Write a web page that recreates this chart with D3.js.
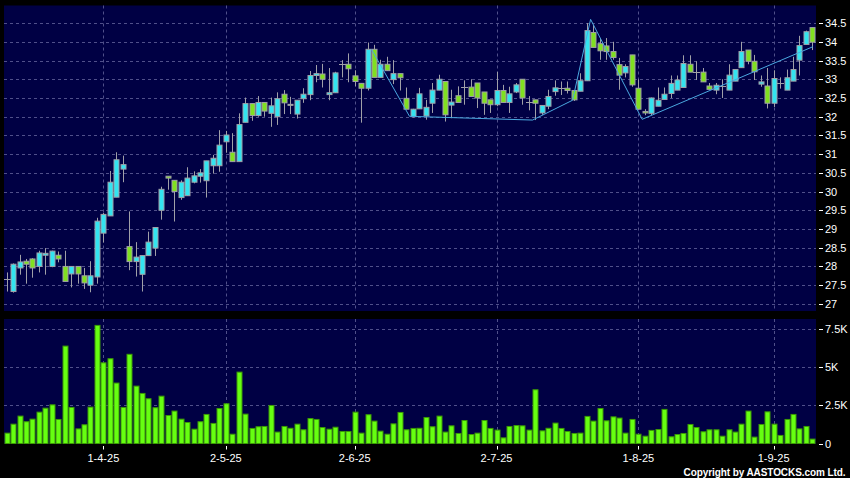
<!DOCTYPE html>
<html><head><meta charset="utf-8">
<script src="https://cdn.jsdelivr.net/npm/d3@7/dist/d3.min.js"></script>
<style>html,body{margin:0;padding:0;background:#000;}svg{display:block;}</style>
</head><body>
<svg id="c" width="850" height="478"></svg>
<script>
const dates = [
"11-3-25","12-3-25","13-3-25","14-3-25","17-3-25","18-3-25","19-3-25","20-3-25","21-3-25","24-3-25","25-3-25","26-3-25","27-3-25","28-3-25","31-3-25",
"1-4-25","2-4-25","3-4-25","7-4-25","8-4-25","9-4-25","10-4-25","11-4-25","14-4-25","15-4-25","16-4-25","17-4-25","22-4-25","23-4-25","24-4-25","25-4-25","28-4-25","29-4-25","30-4-25",
"2-5-25","6-5-25","7-5-25","8-5-25","9-5-25","12-5-25","13-5-25","14-5-25","15-5-25","16-5-25","19-5-25","20-5-25","21-5-25","22-5-25","23-5-25","26-5-25","27-5-25","28-5-25","29-5-25","30-5-25",
"2-6-25","3-6-25","4-6-25","5-6-25","6-6-25","9-6-25","10-6-25","11-6-25","12-6-25","13-6-25","16-6-25","17-6-25","18-6-25","19-6-25","20-6-25","23-6-25","24-6-25","25-6-25","26-6-25","27-6-25","30-6-25",
"1-7-25","2-7-25","3-7-25","4-7-25","7-7-25","8-7-25","9-7-25","10-7-25","11-7-25","14-7-25","15-7-25","16-7-25","17-7-25","18-7-25","21-7-25","22-7-25","23-7-25","24-7-25","25-7-25","28-7-25","29-7-25","30-7-25","31-7-25",
"1-8-25","4-8-25","5-8-25","6-8-25","7-8-25","8-8-25","11-8-25","12-8-25","13-8-25","14-8-25","15-8-25","18-8-25","19-8-25","20-8-25","21-8-25","22-8-25","25-8-25","26-8-25","27-8-25","28-8-25","29-8-25",
"1-9-25","2-9-25","3-9-25","4-9-25","5-9-25","8-9-25","9-9-25"];

const open = [27.66,27.33,27.96,28.14,28.20,28.00,28.30,28.00,28.30,28.00,27.80,28.00,27.75,27.50,27.72,28.89,29.35,29.85,30.60,28.53,
28.13,27.79,28.29,28.49,29.50,30.41,30.30,29.84,29.89,30.25,30.41,30.29,30.69,30.69,31.33,31.05,30.80,31.85,32.35,32.03,
32.38,32.09,32.00,32.60,32.33,32.07,32.48,32.59,33.10,33.14,32.59,32.64,33.42,33.40,33.09,32.89,32.76,33.80,33.05,33.40,
32.99,33.15,32.49,32.00,32.21,32.02,32.36,32.71,32.94,32.31,32.56,32.79,32.79,32.90,32.66,32.45,32.32,32.70,32.38,32.66,
33.00,32.39,32.45,32.10,32.28,32.67,32.77,32.76,32.70,32.68,32.96,34.25,33.95,33.89,33.74,33.39,33.17,33.65,32.76,32.14,
32.09,32.28,32.46,32.62,32.71,32.78,33.40,33.19,33.19,32.82,32.71,32.82,32.71,32.95,33.31,33.78,33.48,32.87,32.82,32.36,
32.89,32.71,32.95,33.51,33.93,34.38];
const high = [27.84,28.08,28.31,28.20,28.22,28.42,28.49,28.42,28.40,28.42,28.00,28.00,27.96,28.14,29.30,29.43,30.55,31.05,30.96,29.47,
28.65,28.29,28.93,29.04,30.13,30.41,30.30,30.30,30.65,30.54,30.60,30.82,30.98,31.64,31.62,31.56,32.09,32.51,32.35,32.55,
32.38,32.51,32.65,32.71,32.53,32.44,32.76,33.22,33.38,33.41,33.30,33.20,33.51,33.69,33.24,32.89,33.98,33.92,33.52,33.60,
33.51,33.15,32.78,32.21,32.77,32.45,32.90,33.12,32.94,32.72,32.81,32.97,33.00,32.90,32.66,32.45,33.20,32.85,32.80,32.90,
33.00,32.55,32.45,32.30,32.72,32.97,32.94,32.94,32.70,33.16,34.50,34.45,34.10,34.10,34.00,33.57,33.40,33.65,33.00,32.20,
32.51,32.78,32.78,33.10,33.10,33.64,33.64,33.48,33.30,32.90,32.90,33.00,33.40,33.26,34.00,33.78,33.65,33.10,33.30,33.24,
33.05,33.26,33.60,34.16,34.30,34.38];
const low = [27.33,27.30,27.78,27.54,27.70,27.84,27.78,27.98,28.11,27.60,27.44,27.54,27.40,27.31,27.54,28.64,29.35,29.85,30.25,27.90,
27.73,27.33,28.29,28.28,29.25,30.05,29.20,29.78,29.89,30.22,30.24,29.84,30.48,30.53,31.04,30.80,30.80,31.85,31.89,32.00,
32.00,31.73,31.78,32.07,32.07,31.95,32.37,32.44,32.92,32.78,32.44,32.64,33.05,32.92,32.81,31.84,32.70,33.05,33.05,33.23,
32.87,32.70,32.20,31.98,32.21,31.92,32.10,32.71,31.87,31.96,32.38,32.32,32.54,32.23,32.05,32.10,32.28,32.38,32.10,32.63,
32.32,32.17,31.91,32.05,32.20,32.56,32.58,32.62,32.42,32.68,32.96,33.85,33.52,33.52,33.52,32.72,33.05,32.80,32.20,32.04,
32.04,32.28,32.46,32.50,32.71,32.78,33.19,32.98,32.93,32.73,32.60,32.50,32.71,32.95,33.31,33.40,32.98,32.80,32.22,32.26,
32.75,32.71,32.95,33.10,33.93,33.78];
const close = [27.66,28.06,28.12,28.06,27.96,28.36,28.35,28.41,28.20,27.60,28.00,27.80,27.56,27.75,29.21,29.39,30.25,30.85,30.72,28.13,
28.25,28.29,28.65,29.04,30.06,30.36,30.00,30.25,30.36,30.42,30.50,30.82,30.89,31.24,31.51,30.80,31.79,32.35,32.03,32.38,
32.15,32.29,32.48,32.37,32.31,32.44,32.60,33.10,33.15,33.00,32.64,33.17,33.42,33.28,32.94,32.76,33.80,33.05,33.40,33.23,
33.15,33.04,32.20,32.20,32.61,32.25,32.71,33.00,32.05,32.39,32.38,32.79,32.54,32.50,32.36,32.32,32.70,32.38,32.61,32.85,
32.50,32.39,32.36,32.30,32.54,32.77,32.77,32.70,32.45,32.96,34.30,33.85,33.76,33.74,33.58,33.11,33.34,32.85,32.20,32.10,
32.50,32.44,32.60,32.89,32.98,33.42,33.19,33.19,32.93,32.73,32.84,32.82,33.11,33.26,33.74,33.48,33.20,32.93,32.36,33.02,
32.89,33.04,33.26,33.90,34.27,33.99];
const volumeK = [0.68,1.27,1.8,1.43,1.6,2.06,2.32,2.54,1.58,6.4,
2.37,0.96,1.23,2.39,7.76,5.3,5.57,3.97,2.37,5.86,
3.77,3.29,2.94,2.35,3.11,1.84,2.13,1.6,1.38,0.94,
1.43,1.91,1.32,2.3,2.61,0.61,4.69,1.93,0.99,1.1,
1.12,2.5,0.75,1.12,1.0,1.27,0.9,1.64,1.58,1.05,
0.94,1.07,0.79,0.79,2.06,0.68,1.89,1.47,0.81,0.61,
1.29,2.04,0.9,0.99,1.0,1.71,
1.1,1.8,0.75,1.16,0.66,1.51,0.59,0.68,1.51,0.99,
0.88,0.37,1.12,1.18,1.16,0.88,3.53,0.83,1.0,1.34,
0.99,0.79,0.66,0.68,1.78,1.47,2.3,1.49,1.75,1.67,
0.68,1.58,0.61,0.48,0.86,0.92,2.24,0.44,0.59,0.66,
1.25,1.05,0.77,0.9,0.9,0.48,0.9,0.75,1.27,2.13,
0.42,1.25,2.08,1.27,0.53,1.58,1.91,0.96,1.12,0.29];
// zigzag overlay: position (fractional bar index) and price
const zigIdx = [56.6, 62.5, 81.6, 87.8, 90.6, 98.6, 125.1];
const zigPrice = [33.80, 32.01, 31.91, 32.44, 34.60, 31.93, 33.87];

const dateTicks = ["1-4-25","2-5-25","2-6-25","2-7-25","1-8-25","1-9-25"];
const priceTicks = [27,27.5,28,28.5,29,29.5,30,30.5,31,31.5,32,32.5,33,33.5,34,34.5];
const volTicks = [0,2.5,5,7.5];
const volTickLabels = ["0","2.5K","5K","7.5K"];

const C = {bg:"#000044", grid:"#50508a", up:"#33e4f0", down:"#80e020", wick:"#a0a0a8", vol:"#66ff11", volEdge:"#3c9a06", zig:"#4aa8e0", text:"#ffffff"};

const svg = d3.select("#c");
const L = 4, R = 816;
const P = {top:5.5, bottom:311}, V = {top:319, bottom:443.5};

const x = d3.scalePoint().domain(dates).range([6.7, 812.3]);
const xi = d3.scaleLinear().domain([0, dates.length-1]).range([6.7, 812.3]);
const y = d3.scaleLinear().domain([26.81, 34.97]).range([P.bottom, P.top]);
const yv = d3.scaleLinear().domain([0, 8.18]).range([V.bottom, V.top]);

svg.append("rect").attr("x",0).attr("y",0).attr("width",850).attr("height",478).attr("fill","#000");
svg.append("rect").attr("x",L).attr("y",P.top).attr("width",R-L).attr("height",P.bottom-P.top).attr("fill",C.bg);
svg.append("rect").attr("x",L).attr("y",V.top).attr("width",R-L).attr("height",V.bottom-V.top).attr("fill",C.bg);

const g = svg.append("g");
g.selectAll(".hp").data(priceTicks).join("line")
  .attr("x1",L).attr("x2",R).attr("y1",d=>Math.round(y(d))+0.5).attr("y2",d=>Math.round(y(d))+0.5)
  .attr("stroke",C.grid).attr("stroke-dasharray","3,3").attr("stroke-width",1);
g.selectAll(".hv").data(volTicks.filter(d=>d>0)).join("line")
  .attr("x1",L).attr("x2",R).attr("y1",d=>Math.round(yv(d))+0.5).attr("y2",d=>Math.round(yv(d))+0.5)
  .attr("stroke",C.grid).attr("stroke-dasharray","3,3").attr("stroke-width",1);
[P,V].forEach(pn=>{
  g.selectAll(null).data(dateTicks).join("line")
    .attr("x1",d=>Math.round(x(d))+0.5).attr("x2",d=>Math.round(x(d))+0.5)
    .attr("y1",pn.top).attr("y2",pn.bottom)
    .attr("stroke",C.grid).attr("stroke-dasharray","3,3").attr("stroke-width",1);
});

const bars = dates.map((d,i)=>({d,o:open[i],h:high[i],l:low[i],c:close[i],v:volumeK[i]}));
const cg = svg.append("g");
cg.selectAll(".wick").data(bars).join("line")
  .attr("x1",d=>Math.round(x(d.d))+0.5).attr("x2",d=>Math.round(x(d.d))+0.5)
  .attr("y1",d=>y(d.h)).attr("y2",d=>y(d.l))
  .attr("stroke",C.wick).attr("stroke-width",1);
const bw = 5;
cg.selectAll(".body").data(bars.filter(b=>b.o!==b.c)).join("rect")
  .attr("x",d=>Math.round(x(d.d))-2).attr("width",bw)
  .attr("y",d=>y(Math.max(d.o,d.c))).attr("height",d=>Math.max(1,Math.abs(y(d.o)-y(d.c))))
  .attr("fill",d=>d.c>d.o?C.up:C.down).attr("stroke",C.wick).attr("stroke-width",1);
cg.selectAll(".doji").data(bars.filter(b=>b.o===b.c)).join("line")
  .attr("x1",d=>Math.round(x(d.d))-3).attr("x2",d=>Math.round(x(d.d))+4)
  .attr("y1",d=>Math.round(y(d.o))+0.5).attr("y2",d=>Math.round(y(d.o))+0.5)
  .attr("stroke",C.wick).attr("stroke-width",1);

const zig = zigIdx.map((v,i)=>[xi(v), y(zigPrice[i])]);
svg.append("path").attr("d",d3.line()(zig)).attr("fill","none").attr("stroke",C.zig).attr("stroke-width",1);

svg.append("g").selectAll("rect").data(bars).join("rect")
  .attr("x",d=>Math.round(x(d.d))-2).attr("width",bw)
  .attr("y",d=>yv(d.v)).attr("height",d=>V.bottom-yv(d.v))
  .attr("fill",C.vol).attr("stroke",C.volEdge).attr("stroke-width",1);

const font = "Liberation Sans, Arial, sans-serif";
const ax = svg.append("g").attr("font-family",font).attr("font-size",11).attr("fill",C.text);
ax.selectAll(".pt").data(priceTicks).join("text")
  .attr("x",825).attr("y",d=>y(d)+4).text(d=>String(d));
ax.selectAll(".ptl").data(priceTicks).join("line")
  .attr("x1",819).attr("x2",823).attr("y1",d=>Math.round(y(d))+0.5).attr("y2",d=>Math.round(y(d))+0.5)
  .attr("stroke",C.text);
ax.selectAll(".vt").data(volTicks).join("text")
  .attr("x",825).attr("y",d=>yv(d)+4).text((d,i)=>volTickLabels[i]);
ax.selectAll(".vtl").data(volTicks).join("line")
  .attr("x1",819).attr("x2",823).attr("y1",d=>Math.round(yv(d))+0.5).attr("y2",d=>Math.round(yv(d))+0.5)
  .attr("stroke",C.text);
ax.selectAll(".xt").data(dateTicks).join("text")
  .attr("x",d=>x(d)).attr("y",461.5).attr("text-anchor","middle").text(d=>d);
ax.selectAll(".xtl").data(dateTicks).join("line")
  .attr("x1",d=>Math.round(x(d))+0.5).attr("x2",d=>Math.round(x(d))+0.5).attr("y1",446).attr("y2",449.5)
  .attr("stroke",C.text);

svg.append("text").attr("x",845.5).attr("y",476).attr("text-anchor","end")
  .attr("font-family",font).attr("font-size",10).attr("font-weight","bold").attr("fill",C.text)
  .attr("textLength",162).attr("lengthAdjust","spacing")
  .text("Copyright by AASTOCKS.com Ltd.");
</script>
</body></html>
